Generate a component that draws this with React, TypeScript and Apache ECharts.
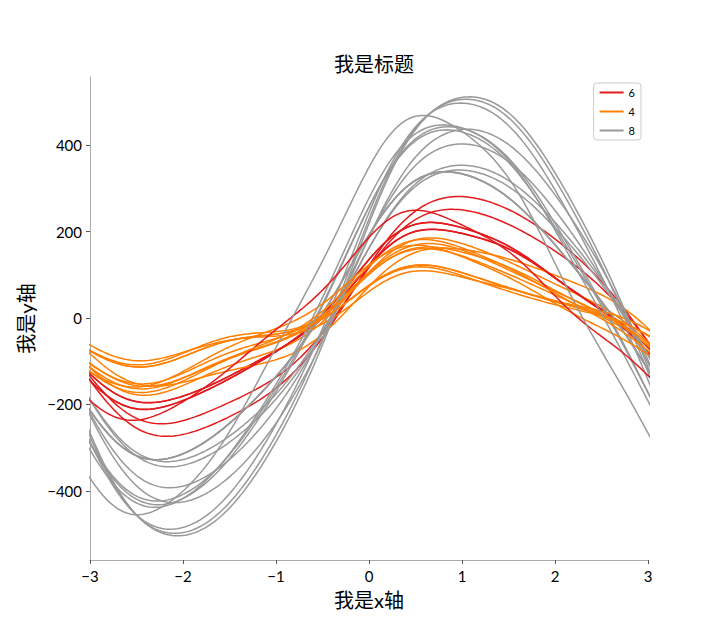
import React, { useEffect, useRef } from "react";
import * as echarts from "echarts";

// mtcars rows (car names and mpg left out):
// cyl, disp, hp, drat, wt, qsec, vs, am, gear, carb
const rows: number[][] = [
  [6, 160.0, 110, 3.9, 2.62, 16.46, 0, 1, 4, 4],
  [6, 160.0, 110, 3.9, 2.875, 17.02, 0, 1, 4, 4],
  [4, 108.0, 93, 3.85, 2.32, 18.61, 1, 1, 4, 1],
  [6, 258.0, 110, 3.08, 3.215, 19.44, 1, 0, 3, 1],
  [8, 360.0, 175, 3.15, 3.44, 17.02, 0, 0, 3, 2],
  [6, 225.0, 105, 2.76, 3.46, 20.22, 1, 0, 3, 1],
  [8, 360.0, 245, 3.21, 3.57, 15.84, 0, 0, 3, 4],
  [4, 146.7, 62, 3.69, 3.19, 20.0, 1, 0, 4, 2],
  [4, 140.8, 95, 3.92, 3.15, 22.9, 1, 0, 4, 2],
  [6, 167.6, 123, 3.92, 3.44, 18.3, 1, 0, 4, 4],
  [6, 167.6, 123, 3.92, 3.44, 18.9, 1, 0, 4, 4],
  [8, 275.8, 180, 3.07, 4.07, 17.4, 0, 0, 3, 3],
  [8, 275.8, 180, 3.07, 3.73, 17.6, 0, 0, 3, 3],
  [8, 275.8, 180, 3.07, 3.78, 18.0, 0, 0, 3, 3],
  [8, 472.0, 205, 2.93, 5.25, 17.98, 0, 0, 3, 4],
  [8, 460.0, 215, 3.0, 5.424, 17.82, 0, 0, 3, 4],
  [8, 440.0, 230, 3.23, 5.345, 17.42, 0, 0, 3, 4],
  [4, 78.7, 66, 4.08, 2.2, 19.47, 1, 1, 4, 1],
  [4, 75.7, 52, 4.93, 1.615, 18.52, 1, 1, 4, 2],
  [4, 71.1, 65, 4.22, 1.835, 19.9, 1, 1, 4, 1],
  [4, 120.1, 97, 3.7, 2.465, 20.01, 1, 0, 3, 1],
  [8, 318.0, 150, 2.76, 3.52, 16.87, 0, 0, 3, 2],
  [8, 304.0, 150, 3.15, 3.435, 17.3, 0, 0, 3, 2],
  [8, 350.0, 245, 3.73, 3.84, 15.41, 0, 0, 3, 4],
  [8, 400.0, 175, 3.08, 3.845, 17.05, 0, 0, 3, 2],
  [4, 79.0, 66, 4.08, 1.935, 18.9, 1, 1, 4, 1],
  [4, 120.3, 91, 4.43, 2.14, 16.7, 0, 1, 5, 2],
  [4, 95.1, 113, 3.77, 1.513, 16.9, 1, 1, 5, 2],
  [8, 351.0, 264, 4.22, 3.17, 14.5, 0, 1, 5, 4],
  [6, 145.0, 175, 3.62, 2.77, 15.5, 0, 1, 5, 6],
  [8, 301.0, 335, 3.54, 3.57, 14.6, 0, 1, 5, 8],
  [4, 121.0, 109, 4.11, 2.78, 18.6, 1, 1, 4, 2],
];
const classOrder = ["6", "4", "8"];
const classColors: Record<string, string> = { "6": "#e41a1c", "4": "#ff7f00", "8": "#999999" };
const yTicks = [-400, -200, 0, 200, 400];

// Andrews curve: x1/sqrt(2) + x2 sin t + x3 cos t + x4 sin 2t + x5 cos 2t + ...
const andrews = (amps: number[], t: number): number => {
  let r = amps[0] / Math.sqrt(2);
  for (let i = 1; i < amps.length; i++) {
    const h = Math.ceil(i / 2);
    r += i % 2 === 1 ? amps[i] * Math.sin(h * t) : amps[i] * Math.cos(h * t);
  }
  return r;
};

const SAMPLES = 200;
const tValues: number[] = [];
for (let i = 0; i < SAMPLES; i++) tValues.push(-Math.PI + (2 * Math.PI * i) / (SAMPLES - 1));

const FONT = 'Lato, "Noto Sans CJK SC", sans-serif';
const minus = (v: number) => String(v).replace("-", "\u2212");

const App: React.FC = () => {
  const chartRef = useRef<HTMLDivElement>(null);

  useEffect(() => {
    const chartDom = chartRef.current;
    if (!chartDom) return;
    const myChart = echarts.init(chartDom, undefined, { renderer: "svg" });

    const series = rows.map((row) => {
      const cls = String(row[0]);
      return {
        name: cls,
        type: "line" as const,
        data: tValues.map((t) => [t, andrews(row, t)]),
        showSymbol: false,
        symbol: "none",
        clip: true,
        lineStyle: { color: classColors[cls], width: 1.5 },
        itemStyle: { color: classColors[cls] },
        emphasis: { disabled: true },
      };
    });

    const option: echarts.EChartsOption = {
      animation: false,
      textStyle: { fontFamily: FONT },
      title: {
        text: "我是标题",
        left: 369,
        textAlign: "center",
        top: 49,
        textStyle: { fontSize: 20, fontWeight: "normal", color: "#000", fontFamily: FONT },
      },
      legend: {
        data: classOrder,
        right: 79,
        top: 83,
        orient: "vertical",
        icon: "rect",
        itemWidth: 24,
        itemHeight: 2,
        itemGap: 8,
        padding: [4, 6, 4, 6],
        borderColor: "#cccccc",
        borderWidth: 1,
        borderRadius: 3,
        textStyle: { fontSize: 11, color: "#000", fontFamily: FONT },
      },
      grid: { left: 90, right: 72, top: 77, bottom: 80, containLabel: false },
      xAxis: {
        type: "value",
        min: -3,
        max: 3,
        interval: 1,
        name: "我是x轴",
        nameLocation: "middle",
        nameGap: 30,
        nameTextStyle: { fontSize: 20, color: "#000", fontFamily: FONT },
        axisLine: { onZero: false, lineStyle: { color: "#aaaaaa", width: 1 } },
        axisTick: { show: true, length: 4, lineStyle: { color: "#555" } },
        axisLabel: { fontSize: 15, color: "#000", fontFamily: FONT, formatter: minus },
        splitLine: { show: false },
      },
      yAxis: {
        type: "value",
        min: -560,
        max: 558,
        name: "我是y轴",
        nameLocation: "middle",
        nameGap: 50,
        nameTextStyle: { fontSize: 20, color: "#000", fontFamily: FONT },
        axisLine: { show: true, onZero: false, lineStyle: { color: "#aaaaaa", width: 1 } },
        axisTick: { show: true, length: 4, lineStyle: { color: "#555" }, customValues: yTicks },
        axisLabel: {
          fontSize: 15,
          color: "#000",
          fontFamily: FONT,
          customValues: yTicks,
          formatter: minus,
        },
        splitLine: { show: false },
      },
      series,
    };

    myChart.setOption(option);
    return () => {
      myChart.dispose();
    };
  }, []);

  return <div ref={chartRef} style={{ width: 720, height: 640, margin: -8 }} />;
};

export default App;
